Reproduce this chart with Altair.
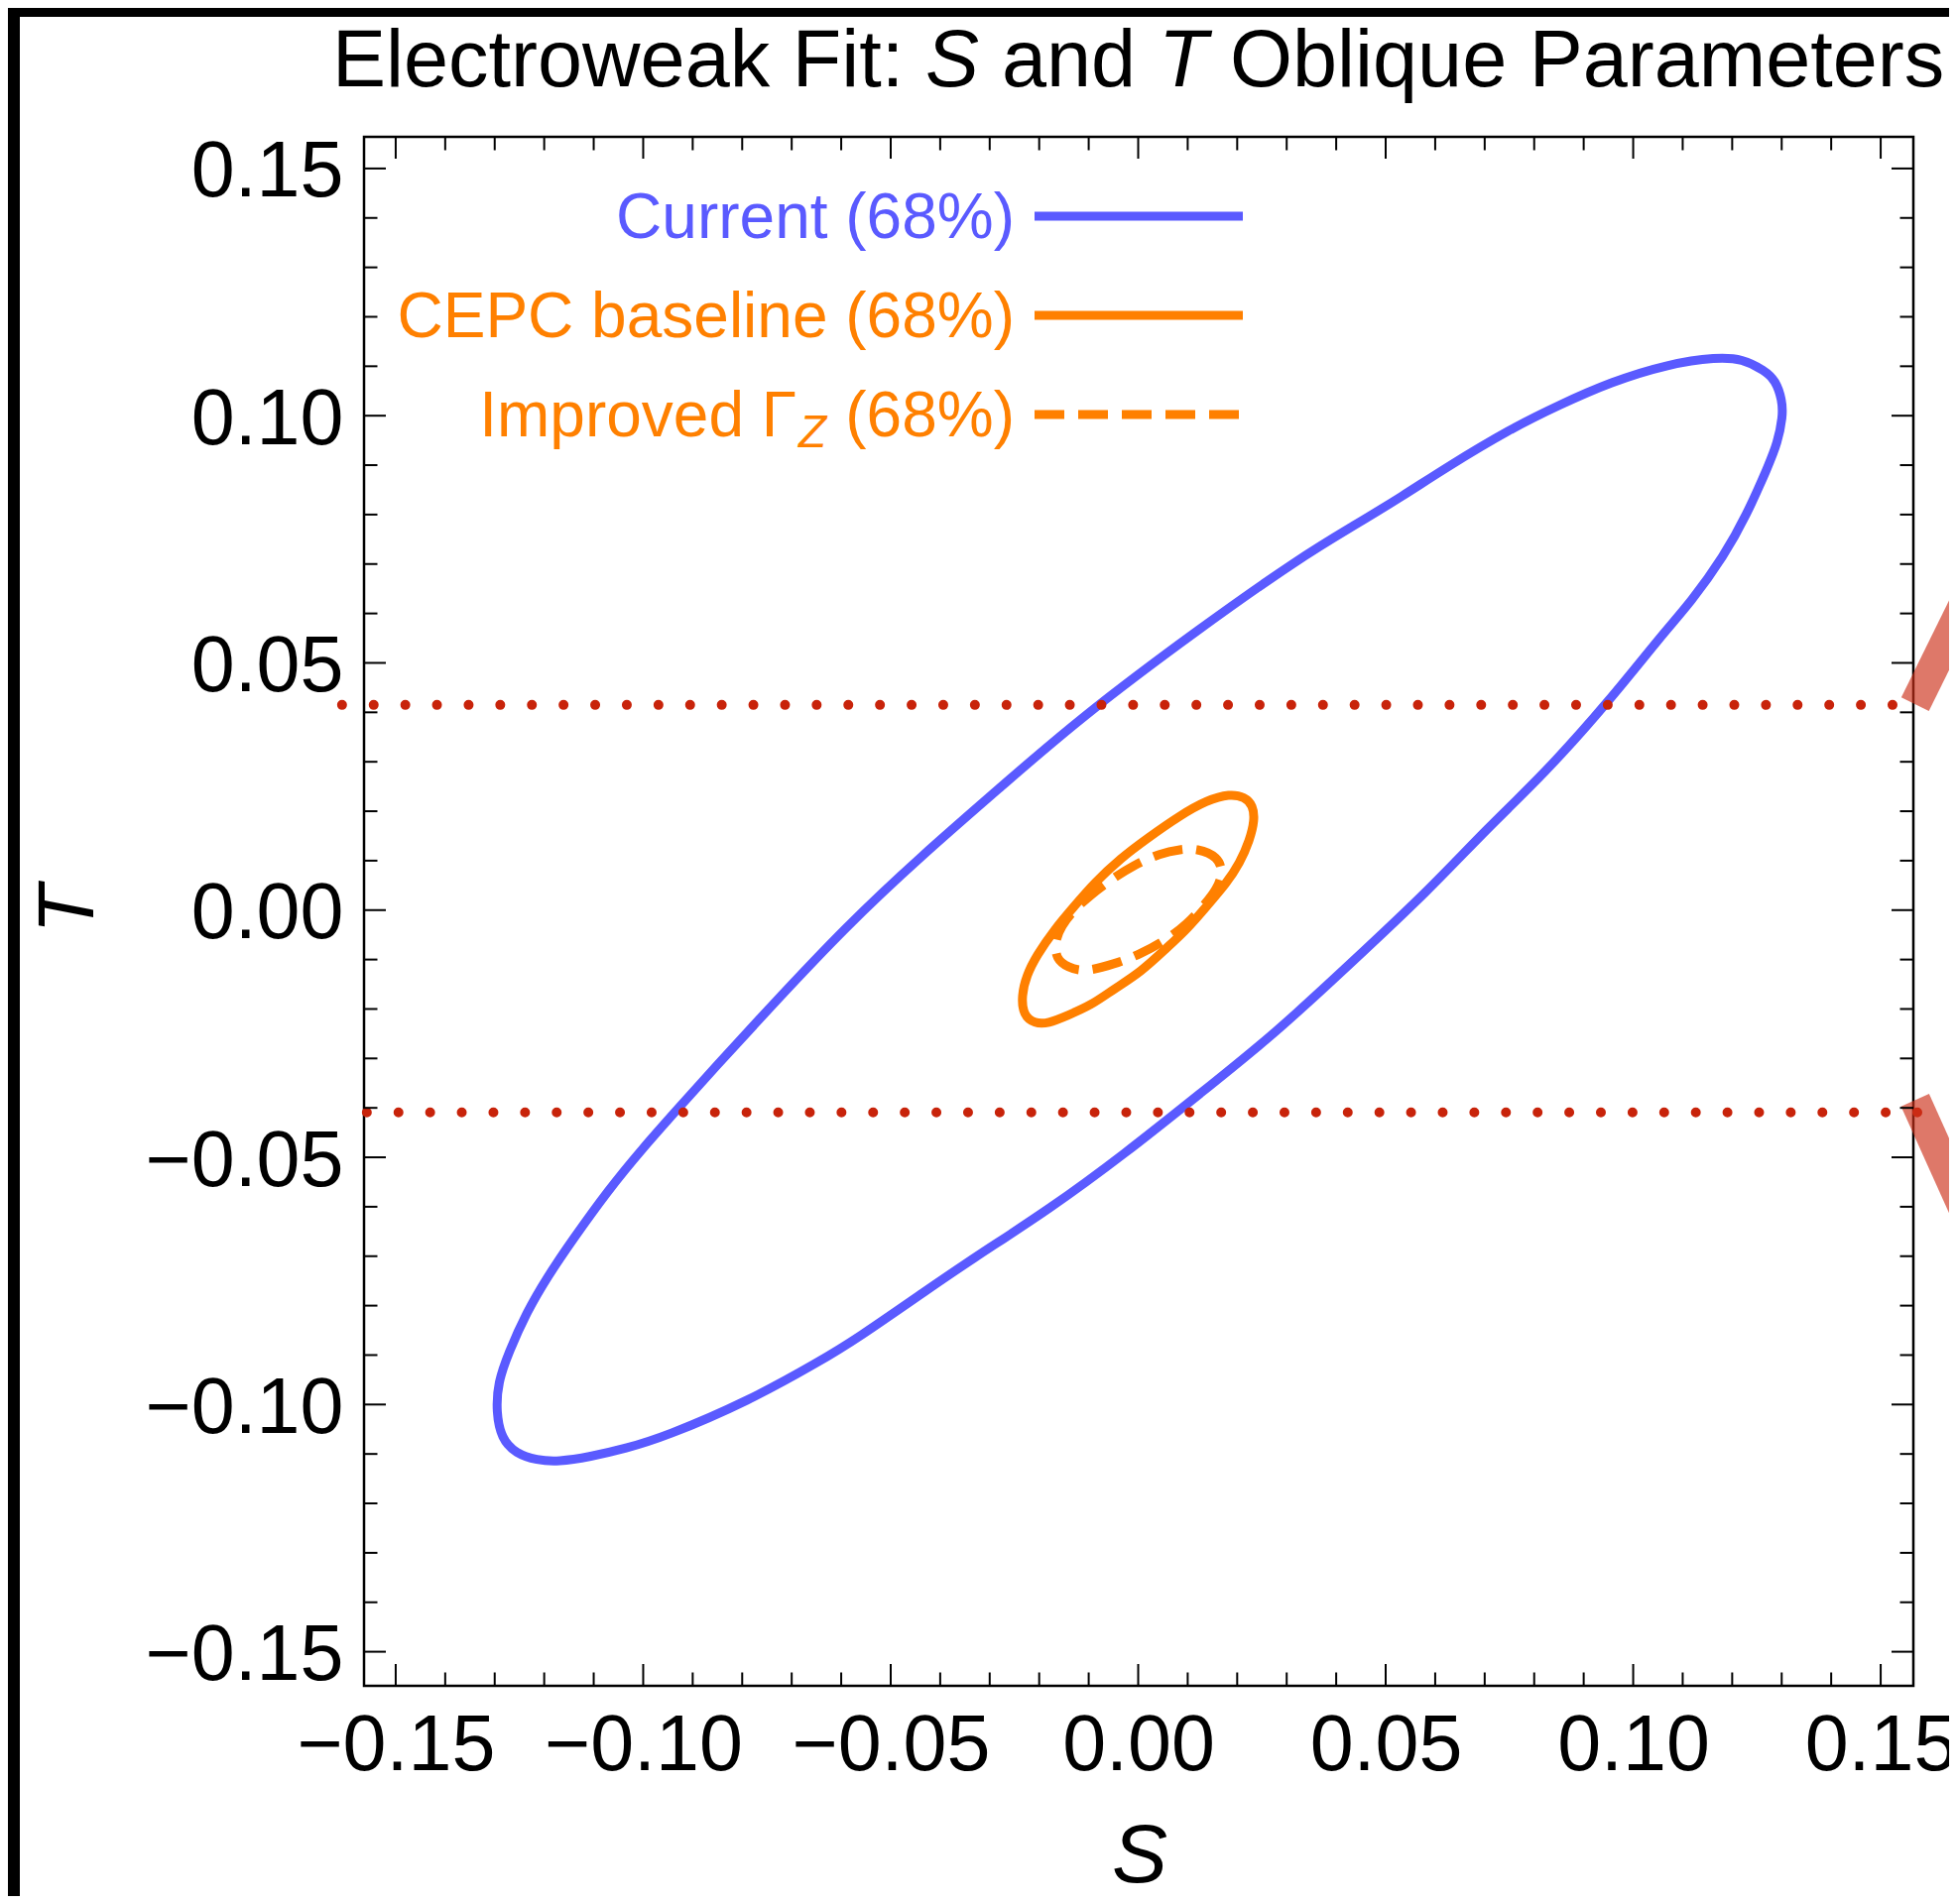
import altair as alt
import pandas as pd

# ---------------- data ----------------
blue_S = [0.10725, 0.11691, 0.12208, 0.12653, 0.12876, 0.13010, 0.13024, 0.12914, 0.12727,
          0.12283, 0.11838, 0.11170, 0.10577, 0.09541, 0.08204, 0.07062, 0.05856, 0.04323,
          0.02788, 0.01255, -0.00279, -0.01814, -0.03244, -0.04267, -0.05705, -0.06423,
          -0.07854, -0.09571, -0.10359, -0.11074, -0.11717, -0.12148, -0.12577, -0.12864,
          -0.12970, -0.12936, -0.12719, -0.12363, -0.11934, -0.11433, -0.10715, -0.10000,
          -0.09285, -0.08569, -0.07437, -0.05902, -0.04369, -0.02836, -0.01198, 0.01255,
          0.03299, 0.04351, 0.05345, 0.06204, 0.07539, 0.08503, 0.09541]
blue_T = [0.11050, 0.11184, 0.11150, 0.10917, 0.10716, 0.10315, 0.09980, 0.09444, 0.08977,
          0.07973, 0.07170, 0.06233, 0.05565, 0.04260, 0.02755, 0.01668, 0.00387, -0.01046,
          -0.02478, -0.03707, -0.04937, -0.06063, -0.06984, -0.07680, -0.08683, -0.09119,
          -0.09922, -0.10656, -0.10891, -0.11057, -0.11158, -0.11126, -0.10991, -0.10690,
          -0.10155, -0.09553, -0.08951, -0.08148, -0.07413, -0.06677, -0.05673, -0.04804,
          -0.04002, -0.03199, -0.01967, -0.00329, 0.01106, 0.02436, 0.03869, 0.05711,
          0.07146, 0.07772, 0.08376, 0.08942, 0.09745, 0.10215, 0.10682]

cepc_S = [0.01385, 0.01852, 0.02152, 0.02319, 0.02353, 0.02253, 0.02052, 0.01786, 0.01385,
          0.00984, 0.00583, 0.00048, -0.00487, -0.00954, -0.01421, -0.01822, -0.02090,
          -0.02323, -0.02357, -0.02257, -0.02056, -0.01689, -0.01289, -0.00888, -0.00353,
          0.00182, 0.00850]
cepc_T = [0.02220, 0.02354, 0.02288, 0.02119, 0.01818, 0.01417, 0.00949, 0.00548, 0.00080,
          -0.00389, -0.00757, -0.01258, -0.01593, -0.01927, -0.02127, -0.02296, -0.02296,
          -0.02127, -0.01726, -0.01324, -0.00923, -0.00389, 0.00080, 0.00548, 0.01050,
          0.01451, 0.01918]

gz_S = [0.00850, 0.01184, 0.01618, 0.01718, 0.01585, 0.01317, 0.00984, 0.00583, 0.00048,
        -0.00487, -0.01088, -0.01421, -0.01655, -0.01689, -0.01555, -0.01289, -0.00954,
        -0.00553, -0.00086, 0.00449]
gz_T = [0.01230, 0.01250, 0.01084, 0.00749, 0.00413, 0.00080, -0.00289, -0.00590, -0.00891,
        -0.01092, -0.01258, -0.01158, -0.00991, -0.00656, -0.00321, 0.00012, 0.00313,
        0.00614, 0.00915, 0.01150]

dot_upper_S = [-0.16084, 0.15339]
dot_upper_T = [0.0415, 0.0415]
dot_lower_S = [-0.15583, 0.15840]
dot_lower_T = [-0.0409, -0.0409]

band_up_S = [0.15695, 0.17087]
band_up_T = [0.04164, 0.06996]
band_dn_S = [0.15695, 0.17087]
band_dn_T = [-0.03845, -0.06938]

major_ticks = [-0.15, -0.10, -0.05, 0.0, 0.05, 0.10, 0.15]
minor_ticks = [-0.14, -0.13, -0.12, -0.11, -0.09, -0.08, -0.07, -0.06, -0.04, -0.03, -0.02,
               -0.01, 0.01, 0.02, 0.03, 0.04, 0.06, 0.07, 0.08, 0.09, 0.11, 0.12, 0.13, 0.14]

legend_labels = ["Current (68%)", "CEPC baseline (68%)"]

# ---------------- styling ----------------
BLUE = "#5A5AFF"
ORANGE = "#FF8000"
RED = "#C8230A"
FONT = "Liberation Sans"
W = 1562
H = 1562

xs = alt.Scale(domain=[-0.1564, 0.1566], nice=False, zero=False)
ys = alt.Scale(domain=[-0.1569, 0.1564], nice=False, zero=False)

xax = alt.Axis(values=major_ticks, format=".2f", title=None, ticks=False, tickSize=0,
               domain=False, grid=False, labelFontSize=79, labelFont=FONT, labelColor="black",
               labelPadding=84, labelBaseline="alphabetic", labelAlign="center",
               labelOverlap=False, labelFlush=False, labelLimit=1000)
yax = alt.Axis(values=major_ticks, format=".2f", title=None, ticks=False, tickSize=0,
               domain=False, grid=False, labelFontSize=79, labelFont=FONT, labelColor="black",
               labelPadding=21, labelBaseline="alphabetic", labelOffset=28, labelAlign="right",
               labelOverlap=False, labelFlush=False, labelLimit=1000)


def series(S, T):
    return pd.DataFrame({"S": S, "T": T, "i": list(range(len(S)))})


def xy(ch):
    return ch.encode(x=alt.X("S:Q", scale=xs, axis=xax),
                     y=alt.Y("T:Q", scale=ys, axis=yax),
                     order=alt.Order("i:Q"))


one = alt.Data(values=[{}])

layers = []

# curves
layers.append(xy(alt.Chart(series(blue_S, blue_T)).mark_line(
    interpolate="basis-closed", strokeWidth=9, color=BLUE, strokeJoin="round")))
layers.append(xy(alt.Chart(series(cepc_S, cepc_T)).mark_line(
    interpolate="basis-closed", strokeWidth=9, color=ORANGE, strokeJoin="round")))
layers.append(xy(alt.Chart(series(gz_S, gz_T)).mark_line(
    interpolate="basis-closed", strokeWidth=9, color=ORANGE, strokeDash=[30, 14])))

# dotted horizontal lines
for S, T in [(dot_upper_S, dot_upper_T), (dot_lower_S, dot_lower_T)]:
    layers.append(xy(alt.Chart(series(S, T)).mark_line(
        strokeWidth=10, color=RED, strokeDash=[0.001, 31.9], strokeCap="round")))

# thick translucent bands on the right edge
for S, T in [(band_up_S, band_up_T), (band_dn_S, band_dn_T)]:
    layers.append(xy(alt.Chart(series(S, T)).mark_line(
        strokeWidth=31, color="#CC3018", opacity=0.65, strokeCap="butt")))

# inward ticks on all four sides
for vals, L in [(major_ticks, 22), (minor_ticks, 13.5)]:
    df = pd.DataFrame({"v": vals})
    xe = alt.X("v:Q", scale=xs, axis=xax)
    ye = alt.Y("v:Q", scale=ys, axis=yax)
    layers.append(alt.Chart(df).mark_rule(color="black", strokeWidth=2).encode(
        x=xe, y=alt.value(H), y2=alt.value(H - L)))
    layers.append(alt.Chart(df).mark_rule(color="black", strokeWidth=2).encode(
        x=xe, y=alt.value(0), y2=alt.value(L)))
    layers.append(alt.Chart(df).mark_rule(color="black", strokeWidth=2).encode(
        y=ye, x=alt.value(0), x2=alt.value(L)))
    layers.append(alt.Chart(df).mark_rule(color="black", strokeWidth=2).encode(
        y=ye, x=alt.value(W), x2=alt.value(W - L)))


def txt(text, x, y, size, color="black", align="left", italic=False, angle=0, baseline="alphabetic"):
    kw = dict(text=text, align=align, baseline=baseline, fontSize=size, font=FONT, color=color)
    if italic:
        kw["fontStyle"] = "italic"
    if angle:
        kw["angle"] = angle
    return alt.Chart(one).mark_text(**kw).encode(x=alt.value(x), y=alt.value(y))


# title pieces (S and T italic)
layers.append(txt("Electroweak Fit:", -32, -51, 81))
layers.append(txt("S", 566, -51, 81, italic=True))
layers.append(txt("and", 643, -51, 81))
layers.append(txt("T", 801, -51, 81, italic=True))
layers.append(txt("Oblique Parameters", 873, -51, 81))

# axis titles
layers.append(txt("S", 782, 1760, 84, align="center", italic=True))
layers.append(txt("T", -273, 779, 80, align="center", italic=True, angle=270))

# legend
layers.append(txt(legend_labels[0], 656, 102, 64, color=BLUE, align="right"))
layers.append(txt(legend_labels[1], 656, 202, 64, color=ORANGE, align="right"))
layers.append(txt("(68%)", 656, 302, 64, color=ORANGE, align="right"))
layers.append(txt("Improved \u0393", 436, 302, 64, color=ORANGE, align="right"))
layers.append(txt("Z", 438, 313, 46, color=ORANGE, align="left", italic=True))
layers.append(alt.Chart(one).mark_rule(color=BLUE, strokeWidth=9).encode(
    x=alt.value(676), x2=alt.value(886), y=alt.value(80)))
layers.append(alt.Chart(one).mark_rule(color=ORANGE, strokeWidth=9).encode(
    x=alt.value(676), x2=alt.value(886), y=alt.value(180)))
layers.append(alt.Chart(one).mark_rule(color=ORANGE, strokeWidth=9, strokeDash=[30, 14]).encode(
    x=alt.value(676), x2=alt.value(886), y=alt.value(280)))

# black page-edge bars seen in the reference
layers.append(alt.Chart(one).mark_rule(color="black", strokeWidth=12).encode(
    x=alt.value(-353), y=alt.value(-130), y2=alt.value(H + 212)))
layers.append(alt.Chart(one).mark_rule(color="black", strokeWidth=9).encode(
    x=alt.value(-359), x2=alt.value(W + 36), y=alt.value(-125.5)))

chart = alt.layer(*layers).properties(
    width=W, height=H,
    padding={"left": 359, "top": 130, "right": 36, "bottom": 212},
    autosize=alt.AutoSizeParams(type="none"),
    background="white",
).configure_view(stroke="black", strokeWidth=2.5)

chart.save("out.html", embed_options={"renderer": "svg", "actions": False})
